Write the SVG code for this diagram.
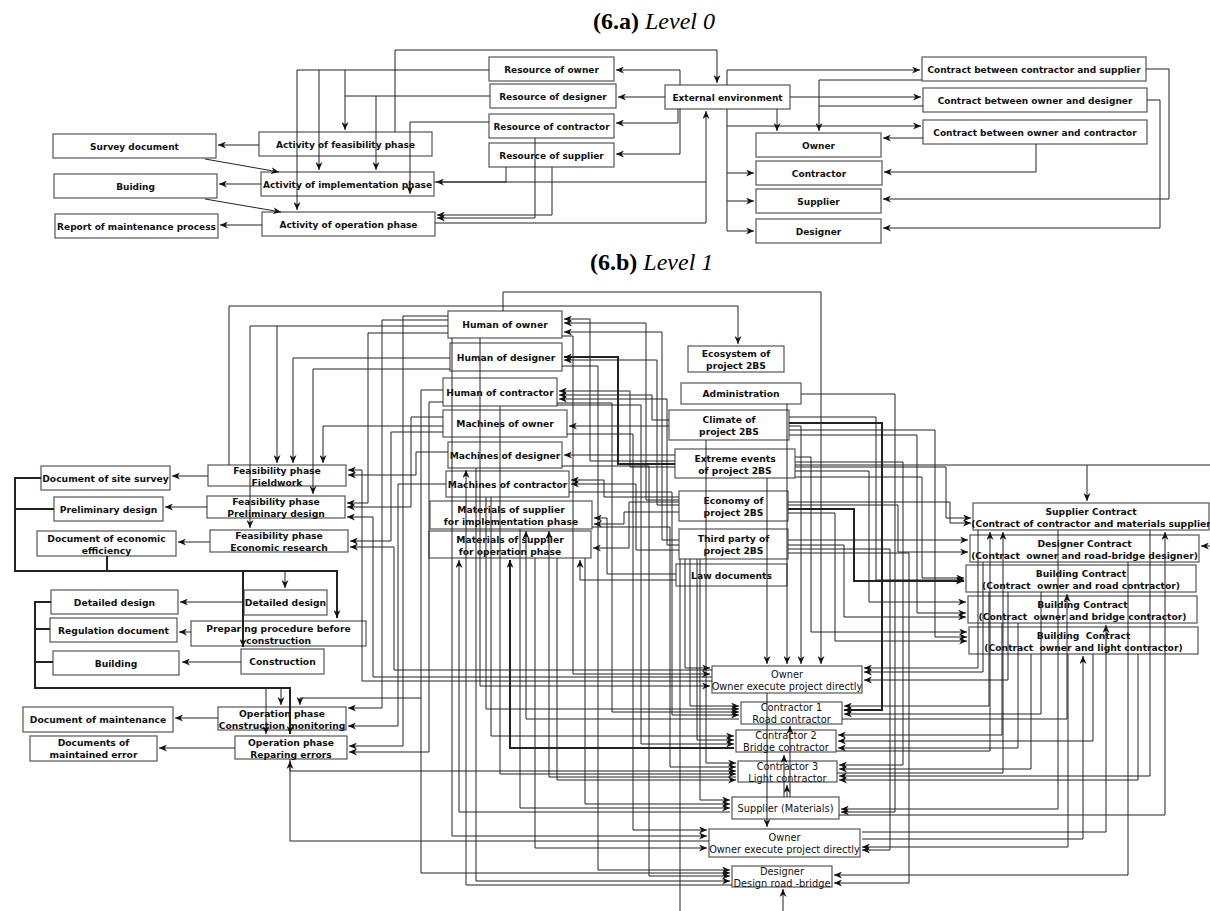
<svg xmlns="http://www.w3.org/2000/svg" width="1210" height="911" viewBox="0 0 1210 911">
<defs>
<marker id="a" viewBox="0 0 8 7" refX="8" refY="3.5" markerWidth="8" markerHeight="7" markerUnits="userSpaceOnUse" orient="auto"><path d="M0,0 L8,3.5 L0,7 L2.5,3.5 z" fill="#111"/></marker>
</defs>
<style>
.b{fill:#fff;stroke:#555;stroke-width:1.2}
.t0{font-family:"DejaVu Sans",sans-serif;font-size:9px;font-weight:bold;text-anchor:middle;fill:#111}
.t1{font-family:"DejaVu Sans",sans-serif;font-size:9.2px;font-weight:bold;text-anchor:middle;fill:#111}
.tn{font-family:"DejaVu Sans",sans-serif;font-size:9.8px;font-weight:normal;text-anchor:middle;fill:#111}
.ttl{font-family:"Liberation Serif","Times New Roman",serif;font-size:24px;fill:#000}
.c path{fill:none;stroke:#222;stroke-width:1;marker-end:url(#a)}
.c path.n{marker-end:none}
.c path.k{stroke-width:2}
</style>
<rect width="1210" height="911" fill="#fff"/>
<text class="ttl" x="593" y="29"><tspan font-weight="bold">(6.a)</tspan> <tspan font-style="italic">Level 0</tspan></text>
<text class="ttl" x="590" y="270"><tspan font-weight="bold">(6.b)</tspan> <tspan font-style="italic">Level 1</tspan></text>

<!-- Level 0 nodes -->
<g id="l0-res-owner"><rect class="b" x="489" y="57" width="125" height="24"/><text class="t0" x="551.5" y="72.5">Resource of owner</text></g>
<g id="l0-res-designer"><rect class="b" x="490" y="84" width="126" height="24"/><text class="t0" x="553" y="99.5">Resource of designer</text></g>
<g id="l0-res-contractor"><rect class="b" x="489" y="114" width="125" height="24"/><text class="t0" x="551.5" y="129.5">Resource of contractor</text></g>
<g id="l0-res-supplier"><rect class="b" x="489" y="143" width="125" height="24"/><text class="t0" x="551.5" y="158.5">Resource of supplier</text></g>
<g id="l0-external"><rect class="b" x="665" y="85" width="125" height="24"/><text class="t0" x="727.5" y="100.5">External environment</text></g>
<g id="l0-c-cs"><rect class="b" x="922" y="57" width="224" height="24"/><text class="t0" x="1034" y="72.5">Contract between contractor and supplier</text></g>
<g id="l0-c-od"><rect class="b" x="923" y="88" width="224" height="24"/><text class="t0" x="1035" y="103.5">Contract between owner and designer</text></g>
<g id="l0-c-oc"><rect class="b" x="923" y="120" width="224" height="24"/><text class="t0" x="1035" y="135.5">Contract between owner and contractor</text></g>
<g id="l0-owner"><rect class="b" x="756" y="133" width="125" height="24"/><text class="t0" x="818.5" y="148.5">Owner</text></g>
<g id="l0-contractor"><rect class="b" x="756" y="161" width="126" height="24"/><text class="t0" x="819" y="176.5">Contractor</text></g>
<g id="l0-supplier"><rect class="b" x="756" y="189" width="125" height="24"/><text class="t0" x="818.5" y="204.5">Supplier</text></g>
<g id="l0-designer"><rect class="b" x="756" y="219" width="125" height="24"/><text class="t0" x="818.5" y="234.5">Designer</text></g>
<g id="l0-act-feas"><rect class="b" x="259" y="132" width="173" height="24"/><text class="t0" x="345.5" y="147.5">Activity of feasibility phase</text></g>
<g id="l0-act-impl"><rect class="b" x="261" y="172" width="173" height="24"/><text class="t0" x="347.5" y="187.5">Activity of implementation phase</text></g>
<g id="l0-act-op"><rect class="b" x="262" y="212" width="173" height="24"/><text class="t0" x="348.5" y="227.5">Activity of operation phase</text></g>
<g id="l0-survey"><rect class="b" x="53" y="134" width="163" height="24"/><text class="t0" x="134.5" y="149.5">Survey document</text></g>
<g id="l0-buiding"><rect class="b" x="54" y="174" width="163" height="24"/><text class="t0" x="135.5" y="189.5">Buiding</text></g>
<g id="l0-report"><rect class="b" x="55" y="214" width="163" height="24"/><text class="t0" x="136.5" y="229.5">Report of maintenance process</text></g>

<!-- Level 1 nodes -->
<g id="l1-human-owner"><rect class="b" x="448" y="311" width="114" height="27"/><text class="t1" x="505" y="328">Human of owner</text></g>
<g id="l1-human-designer"><rect class="b" x="450" y="343" width="112" height="28"/><text class="t1" x="506" y="360.5">Human of designer</text></g>
<g id="l1-human-contractor"><rect class="b" x="443" y="378" width="114" height="28"/><text class="t1" x="500" y="395.5">Human of contractor</text></g>
<g id="l1-mach-owner"><rect class="b" x="443" y="410" width="124" height="27"/><text class="t1" x="505" y="427">Machines of owner</text></g>
<g id="l1-mach-designer"><rect class="b" x="448" y="442" width="114" height="26"/><text class="t1" x="505" y="458.5">Machines of designer</text></g>
<g id="l1-mach-contractor"><rect class="b" x="446" y="471" width="123" height="26"/><text class="t1" x="507.5" y="487.5">Machines of contractor</text></g>
<g id="l1-mat-impl"><rect class="b" x="430" y="501" width="162" height="28"/><text class="t1" x="511" y="513">Materials of supplier</text><text class="t1" x="511" y="525">for implementation phase</text></g>
<g id="l1-mat-op"><rect class="b" x="429" y="531" width="162" height="27"/><text class="t1" x="510" y="543">Materials of supplier</text><text class="t1" x="510" y="555">for operation phase</text></g>
<g id="l1-ecosystem"><rect class="b" x="688" y="346" width="96" height="26"/><text class="t1" x="736" y="357">Ecosystem of</text><text class="t1" x="736" y="369">project 2BS</text></g>
<g id="l1-admin"><rect class="b" x="681" y="383" width="120" height="21"/><text class="t1" x="741" y="397">Administration</text></g>
<g id="l1-climate"><rect class="b" x="669" y="410" width="120" height="30"/><text class="t1" x="729" y="423">Climate of</text><text class="t1" x="729" y="435">project 2BS</text></g>
<g id="l1-extreme"><rect class="b" x="675" y="449" width="120" height="29"/><text class="t1" x="735" y="461.5">Extreme events</text><text class="t1" x="735" y="473.5">of project 2BS</text></g>
<g id="l1-economy"><rect class="b" x="679" y="491" width="109" height="30"/><text class="t1" x="733.5" y="504">Economy of</text><text class="t1" x="733.5" y="516">project 2BS</text></g>
<g id="l1-third"><rect class="b" x="679" y="529" width="109" height="30"/><text class="t1" x="733.5" y="542">Third party of</text><text class="t1" x="733.5" y="554">project 2BS</text></g>
<g id="l1-law"><rect class="b" x="676" y="564" width="111" height="22"/><text class="t1" x="731.5" y="578.5">Law documents</text></g>
<g id="l1-feas-field"><rect class="b" x="208" y="465" width="138" height="21"/><text class="t1" x="277" y="473.5">Feasibility phase</text><text class="t1" x="277" y="485.5">Fieldwork</text></g>
<g id="l1-feas-prelim"><rect class="b" x="207" y="496" width="138" height="22"/><text class="t1" x="276" y="505">Feasibility phase</text><text class="t1" x="276" y="517">Preliminary design</text></g>
<g id="l1-feas-econ"><rect class="b" x="210" y="530" width="138" height="22"/><text class="t1" x="279" y="539">Feasibility phase</text><text class="t1" x="279" y="551">Economic research</text></g>
<g id="l1-doc-site"><rect class="b" x="41" y="466" width="129" height="24"/><text class="t1" x="105.5" y="481.5">Document of site survey</text></g>
<g id="l1-prelim"><rect class="b" x="54" y="497" width="109" height="24"/><text class="t1" x="108.5" y="512.5">Preliminary design</text></g>
<g id="l1-doc-econ"><rect class="b" x="37" y="531" width="139" height="25"/><text class="t1" x="106.5" y="541.5">Document of economic</text><text class="t1" x="106.5" y="553.5">efficiency</text></g>
<g id="l1-detailed-r"><rect class="b" x="244" y="590" width="83" height="25"/><text class="t1" x="285.5" y="606">Detailed design</text></g>
<g id="l1-detailed-l"><rect class="b" x="51" y="590" width="127" height="24"/><text class="t1" x="114.5" y="605.5">Detailed design</text></g>
<g id="l1-regulation"><rect class="b" x="50" y="618" width="127" height="24"/><text class="t1" x="113.5" y="633.5">Regulation document</text></g>
<g id="l1-preparing"><rect class="b" x="191" y="621" width="175" height="25"/><text class="t1" x="278.5" y="631.5">Preparing procedure before</text><text class="t1" x="278.5" y="643.5">construction</text></g>
<g id="l1-building"><rect class="b" x="53" y="651" width="126" height="24"/><text class="t1" x="116" y="666.5">Building</text></g>
<g id="l1-construction"><rect class="b" x="241" y="649" width="83" height="25"/><text class="t1" x="282.5" y="665">Construction</text></g>
<g id="l1-op-monitor"><rect class="b" x="218" y="707" width="128" height="23"/><text class="t1" x="282" y="716.5">Operation phase</text><text class="t1" x="282" y="728.5">Construction monitoring</text></g>
<g id="l1-op-repair"><rect class="b" x="235" y="736" width="112" height="23"/><text class="t1" x="291" y="745.5">Operation phase</text><text class="t1" x="291" y="757.5">Reparing errors</text></g>
<g id="l1-doc-maint"><rect class="b" x="23" y="707" width="150" height="25"/><text class="t1" x="98" y="723">Document of maintenance</text></g>
<g id="l1-doc-error"><rect class="b" x="30" y="736" width="127" height="25"/><text class="t1" x="93.5" y="746">Documents of</text><text class="t1" x="93.5" y="758">maintained error</text></g>
<g id="l1-owner-a"><rect class="b" x="712" y="666" width="150" height="27"/><text class="tn" x="787" y="677.5">Owner</text><text class="tn" x="787" y="689.5">Owner execute project directly</text></g>
<g id="l1-contractor1"><rect class="b" x="741" y="702" width="101" height="22"/><text class="tn" x="791.5" y="711">Contractor 1</text><text class="tn" x="791.5" y="723">Road contractor</text></g>
<g id="l1-contractor2"><rect class="b" x="736" y="730" width="100" height="22"/><text class="tn" x="786" y="739">Contractor 2</text><text class="tn" x="786" y="751">Bridge contractor</text></g>
<g id="l1-contractor3"><rect class="b" x="738" y="761" width="99" height="21"/><text class="tn" x="787.5" y="769.5">Contractor 3</text><text class="tn" x="787.5" y="781.5">Light contractor</text></g>
<g id="l1-supplier"><rect class="b" x="732" y="797" width="107" height="22"/><text class="tn" x="785.5" y="811.5">Supplier (Materials)</text></g>
<g id="l1-owner-b"><rect class="b" x="709" y="829" width="151" height="28"/><text class="tn" x="784.5" y="841">Owner</text><text class="tn" x="784.5" y="853">Owner execute project directly</text></g>
<g id="l1-designer"><rect class="b" x="732" y="866" width="100" height="21"/><text class="tn" x="782" y="874.5">Designer</text><text class="tn" x="782" y="886.5">Design road -bridge</text></g>
<g id="l1-supplier-contract"><rect class="b" x="973" y="503" width="236" height="27"/><text class="t1" x="1091" y="515">Supplier Contract</text><text class="t1" x="1091" y="527">(Contract of contractor and materials supplier</text></g>
<g id="l1-designer-contract"><rect class="b" x="970" y="535" width="229" height="27"/><text class="t1" x="1084.5" y="547">Designer Contract</text><text class="t1" x="1084.5" y="559" xml:space="preserve">(Contract  owner and road-bridge designer)</text></g>
<g id="l1-building-road"><rect class="b" x="966" y="565" width="230" height="27"/><text class="t1" x="1081" y="577">Building Contract</text><text class="t1" x="1081" y="589" xml:space="preserve">(Contract  owner and road contractor)</text></g>
<g id="l1-building-bridge"><rect class="b" x="968" y="596" width="229" height="27"/><text class="t1" x="1082.5" y="608">Building Contract</text><text class="t1" x="1082.5" y="620" xml:space="preserve">(Contract  owner and bridge contractor)</text></g>
<g id="l1-building-light"><rect class="b" x="969" y="627" width="229" height="27"/><text class="t1" x="1083.5" y="639" xml:space="preserve">Building  Contract</text><text class="t1" x="1083.5" y="651" xml:space="preserve">(Contract  owner and light contractor)</text></g>

<g id="connectors" class="c">
<!-- Level 0 -->
<path d="M395,132V50H717V83"/>
<path d="M489,70H297V210"/>
<path d="M319,70V170"/>
<path d="M345,70V130"/>
<path class="n" d="M490,96H345"/>
<path d="M376,96V170"/>
<path d="M489,122H410V194"/>
<path d="M506,167V182H436"/>
<path d="M552,167V215H437"/>
<path d="M535,138V218H437"/>
<path d="M680,85V70H616"/>
<path d="M665,97H618"/>
<path d="M678,109V123H616"/>
<path d="M680,109V154H616"/>
<path d="M434,182H706V111"/>
<path class="n" d="M435,223H706V182"/>
<path d="M205,159L279,172"/>
<path d="M205,199L281,212"/>
<path d="M259,145H218"/>
<path d="M261,184H219"/>
<path d="M262,225H220"/>
<path d="M727,85V70H920"/>
<path d="M727,109V231H754"/>
<path d="M727,173H754"/>
<path d="M727,201H754"/>
<path d="M727,126H921"/>
<path d="M790,97H921"/>
<path d="M777,109V131"/>
<path d="M922,80H819V131"/>
<path class="n" d="M923,106H819"/>
<path d="M923,138H883"/>
<path d="M1036,144V172H884"/>
<path d="M1146,69H1169V199H883"/>
<path d="M1147,100H1160V228H883"/>

<!-- Level 1: top routes -->
<path d="M503,311V292H821V664"/>
<path d="M229,465V306H738V344"/>
<!-- resources left side to feasibility / operation -->
<path d="M448,316H403V746H349"/>
<path d="M448,320H382V708H348"/>
<path d="M448,326H250V528"/>
<path d="M277,326V463"/>
<path d="M448,333H368V503H347"/>
<path d="M450,358H293V463"/>
<path d="M450,369H313V494"/>
<path d="M443,390H421V698H300V705"/>
<path d="M421,698V873H730"/>
<path d="M443,402H429V752H349"/>
<path d="M443,417H411V507H347"/>
<path d="M443,426H323V463"/>
<path d="M443,432H391V541H350"/>
<path d="M448,452H416V475H348"/>
<path d="M446,484H398V726H348"/>
<path d="M712,670H394V547H350"/>
<path d="M712,677H373V517H347"/>
<path d="M712,681H362V470H348"/>
<!-- left buses -->
<path class="k" d="M41,478H15V571H337V618"/>
<path class="k n" d="M54,509H15"/>
<path class="k n" d="M107,556V571"/>
<path d="M285,571V588"/>
<path class="k" d="M243,571V647"/>
<path class="k" d="M51,602H35V688H290V734"/>
<path class="k n" d="M50,629H35"/>
<path class="k n" d="M53,662H35"/>
<path d="M266,688V734"/>
<path d="M281,688V705"/>
<!-- phases to documents -->
<path d="M208,476H172"/>
<path d="M207,507H165"/>
<path d="M210,542H178"/>
<path d="M244,602H180"/>
<path d="M191,632H179"/>
<path d="M241,662H182"/>
<path d="M218,718H175"/>
<path d="M235,748H159"/>
<path d="M290,759V771H736"/>
<path d="M709,841H290V761"/>
<!-- external nodes to resources -->
<path d="M675,461H590V319H564"/>
<path d="M679,500H646V323H564"/>
<path d="M679,540H662V332H564"/>
<path class="k" d="M675,464H618V357H564"/>
<path d="M679,505H657V360H564"/>
<path d="M675,467H630V391H559"/>
<path d="M669,420H652V395H559"/>
<path d="M679,545H667V399H559"/>
<path d="M669,426H569"/>
<path d="M675,455H564"/>
<path d="M679,497H604V480H571"/>
<path d="M679,550H636V484H571"/>
<path d="M676,574H607V518H594"/>
<path d="M679,512H624V524H594"/>
<path d="M679,502H629V548H593"/>
<path d="M676,580H580V560"/>
<!-- external nodes right side -->
<path d="M789,417H876V580H964"/>
<path class="k" d="M789,423H882V710H844"/>
<path d="M789,426H801V664"/>
<path d="M789,430H935V637H967"/>
<path d="M789,435H917V613H966"/>
<path d="M795,457H811V632H967"/>
<path d="M795,462H903V765H839"/>
<path class="n" d="M795,465H1210"/>
<path d="M1087,465V501"/>
<path d="M1210,546H1201"/>
<path d="M795,467H946V518H971"/>
<path d="M795,471H869V602H966"/>
<path d="M795,477H922V578H964"/>
<path d="M788,502H950V523H971"/>
<path d="M788,505H898V552H968"/>
<path class="k" d="M788,509H854V581H964"/>
<path d="M788,513H835V641H967"/>
<path d="M788,540H968"/>
<path d="M788,545H844V617H966"/>
<path d="M788,549H890V850H862"/>
<path d="M788,553H909V883H834"/>
<path d="M801,394H895V812H841"/>
<!-- external bottoms to lower nodes -->
<path class="n" d="M680,559V911"/>
<path d="M685,559V668H710"/>
<path d="M690,559V706H739"/>
<path d="M697,559V740H734"/>
<path d="M700,559V800H730"/>
<path d="M706,440V763H736"/>
<path d="M767,478V664"/>
<path d="M767,693V827"/>
<path d="M787,404V664"/>
<path d="M787,797V785"/>
<path d="M784,797V755"/>
<path d="M790,797V726"/>
<path d="M783,911V889"/>
<!-- resources to lower nodes -->
<path d="M562,336H573V674H710"/>
<path d="M562,366H598V870H730"/>
<path d="M557,403H612V712H739"/>
<path d="M557,405H641V744H734"/>
<path d="M567,434H633V830H707"/>
<path d="M562,466H649V876H730"/>
<path d="M569,492H672V715H739"/>
<path d="M592,527H670V767H736"/>
<path d="M585,558V804H730"/>
<path d="M730,812H459V560"/>
<path class="k" d="M734,748H510V560"/>
<path d="M739,719H526V531"/>
<path d="M736,777H549V531"/>
<path d="M732,885H466V470"/>
<path d="M500,406V774H736"/>
<path d="M452,338V836H707"/>
<path d="M476,468V881H730"/>
<path d="M520,529V808H730"/>
<path d="M535,558V848H707"/>
<path d="M557,558V780H736"/>
<path d="M491,497V736H734"/>
<path d="M486,497V709H739"/>
<path d="M480,338V686H710"/>
<!-- contracts and lower nodes -->
<path d="M978,530V668H864"/>
<path d="M983,562V672H864"/>
<path d="M989,592V706H844"/>
<path d="M1008,592V680H864"/>
<path d="M1002,623V735H838"/>
<path d="M1018,623V748H838"/>
<path d="M1031,654V769H839"/>
<path d="M1041,592V714H844"/>
<path d="M1058,530V809H841"/>
<path d="M1068,654V847H862"/>
<path d="M862,839H1083V656"/>
<path d="M862,832H1106V625"/>
<path d="M842,719H1067V594"/>
<path d="M1093,654V741H838"/>
<path d="M1128,562V875H834"/>
<path d="M1138,654V780H839"/>
<path d="M1150,530V776H839"/>
<path d="M839,815H1165V532"/>
<path d="M836,751H990V532"/>
<path d="M837,773H1003V532"/>
</g>
</svg>
